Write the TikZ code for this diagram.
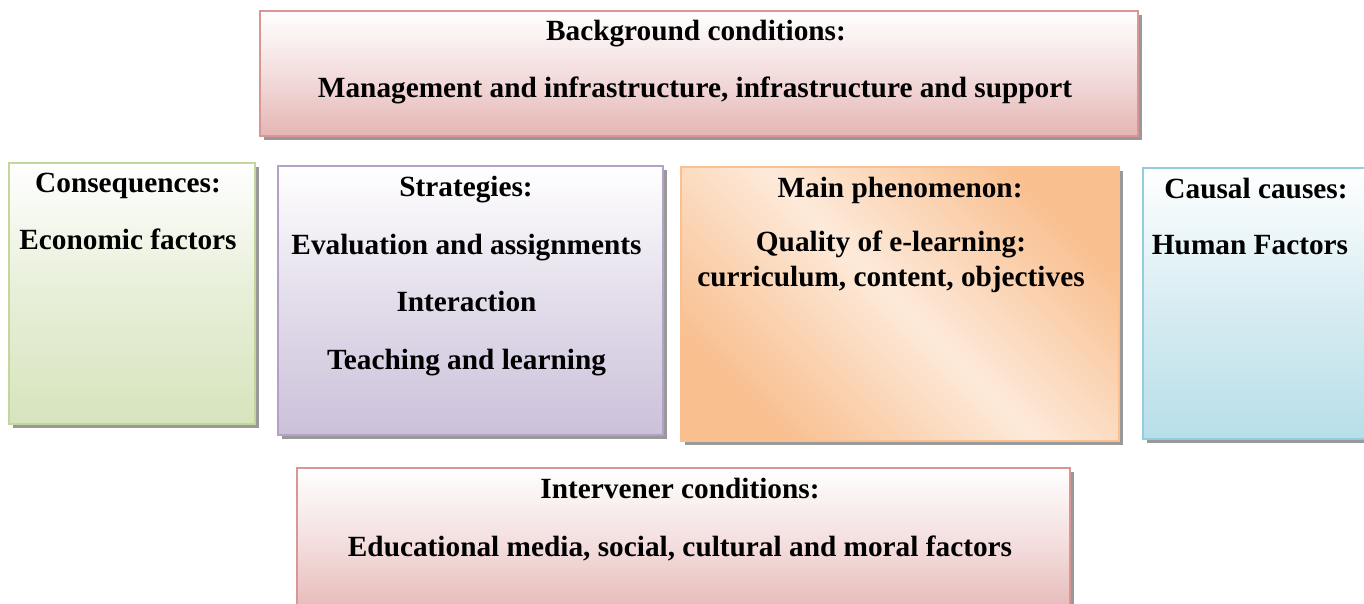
\documentclass[tikz,border=0pt]{standalone}
\usepackage{fontspec}
\setmainfont{Liberation Serif}
\usetikzlibrary{shadows}
\definecolor{redB}{HTML}{D99694}
\definecolor{redF}{HTML}{E5B5B4}
\definecolor{grnB}{HTML}{C3D69B}
\definecolor{grnF}{HTML}{D7E4BD}
\definecolor{purB}{HTML}{B3A2C7}
\definecolor{purF}{HTML}{CCC1DA}
\definecolor{orgB}{HTML}{FAC090}
\definecolor{orgF}{HTML}{F9BF8F}
\definecolor{orgL}{HTML}{FDEADA}
\definecolor{bluB}{HTML}{93CDDD}
\definecolor{bluF}{HTML}{B7DEE8}
\tikzset{
  box/.style={rectangle, inner sep=0pt, line width=2.8pt,
    drop shadow={shadow xshift=4pt, shadow yshift=-4pt, fill=black!40, opacity=1}},
  redbox/.style={box, draw=redB, top color=white, bottom color=redF, middle color=redF!45},
  grnbox/.style={box, draw=grnB, top color=white, bottom color=grnF, middle color=grnF!60},
  purbox/.style={box, draw=purB, top color=white, bottom color=purF, middle color=purF!55},
  blubox/.style={box, draw=bluB, top color=white, bottom color=bluF, middle color=bluF!55},
  orgbox/.style={box, draw=orgB, top color=orgF, bottom color=orgF, middle color=orgL, shading angle=-45},
  txt/.style={anchor=base, inner sep=0pt, font=\fontsize{29.3}{34}\selectfont\bfseries}
}
\begin{document}
\begin{tikzpicture}[x=1pt,y=-1pt]
\useasboundingbox (0,0) rectangle (1364,603);
% boxes
\node[redbox, minimum width=878pt, minimum height=125pt] (bg) at (699,73.5) {};
\node[grnbox, minimum width=246pt, minimum height=261pt] (cons) at (132,293.5) {};
\node[purbox, minimum width=385pt, minimum height=269pt] (strat) at (470.5,300.5) {};
\node[orgbox, minimum width=438pt, minimum height=274pt] (main) at (900,304) {};
\node[blubox, minimum width=237pt, minimum height=271pt] (caus) at (1261.5,303.5) {};
\node[redbox, minimum width=773pt, minimum height=152pt] (interv) at (683.5,544) {};
% texts
\node[txt] (bgT) at (696,40) {Background conditions:};
\node[txt] (bgS) at (695,97) {Management and infrastructure, infrastructure and support};
\node[txt] (consT) at (128,192) {Consequences:};
\node[txt] (consS) at (128,249) {Economic factors};
\node[txt] (stratT) at (466,196) {Strategies:};
\node[txt] (strat1) at (466.5,254) {Evaluation and assignments};
\node[txt] (strat2) at (466.5,311) {Interaction};
\node[txt] (strat3) at (466.5,369) {Teaching and learning};
\node[txt] (mainT) at (900,197) {Main phenomenon:};
\node[txt] (mainS1) at (891,251) {Quality of e-learning:};
\node[txt] (mainS2) at (891,286) {curriculum, content, objectives};
\node[txt] (causT) at (1256,198) {Causal causes:};
\node[txt] (causS) at (1250,254) {Human Factors};
\node[txt] (intT) at (680,498) {Intervener conditions:};
\node[txt] (intS) at (680,556) {Educational media, social, cultural and moral factors};
\end{tikzpicture}
\end{document}
